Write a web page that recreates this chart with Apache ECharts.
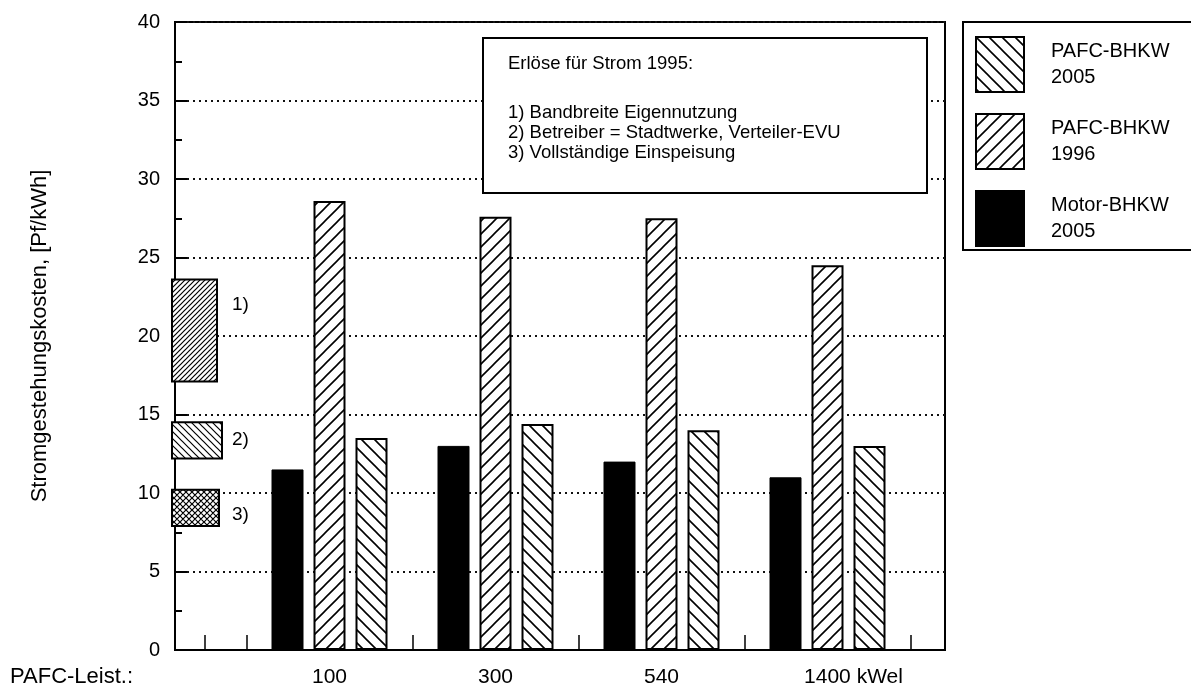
<!DOCTYPE html>
<html>
<head>
<meta charset="utf-8">
<script src="https://cdn.jsdelivr.net/npm/echarts@6/dist/echarts.min.js"></script>
<style>
  html, body { margin: 0; padding: 0; background: #fff; }
  #chart { width: 1191px; height: 688px; }
</style>
</head>
<body>
<div id="chart"></div>
<script>
// --- data ---
const groups = ['100', '300', '540', '1400 kWel'];
const motor2005 = [11.5, 13.0, 12.0, 11.0];
const pafc1996 = [28.6, 27.6, 27.5, 24.5];
const pafc2005 = [13.5, 14.4, 14.0, 13.0];

// revenue ranges for electricity 1995 (boxes at the y axis)
const rangeNames = ['1)', '2)', '3)'];
const rangeLow = [17.1, 12.2, 7.9];
const rangeHigh = [23.6, 14.5, 10.2];
const rangeLabelAt = [22.0, 13.4, 8.6];

const noteTitle = 'Erlöse für Strom 1995:';
const noteLines = [
  '1) Bandbreite Eigennutzung',
  '2) Betreiber = Stadtwerke, Verteiler-EVU',
  '3) Vollständige Einspeisung'
];

const FONT = '"Liberation Sans", Arial, Helvetica, sans-serif';
const X_MIN = 1 - 154.5 / 166;
const X_MAX = 4 + 117.5 / 166;

// hatch tiles
function hatch(size, kind, lw) {
  const c = document.createElement('canvas');
  c.width = c.height = size;
  const g = c.getContext('2d');
  g.fillStyle = '#fff';
  g.fillRect(0, 0, size, size);
  g.strokeStyle = '#000';
  g.lineWidth = lw;
  g.beginPath();
  if (kind === '/' || kind === 'x') {
    g.moveTo(-1, size + 1); g.lineTo(size + 1, -1);
    g.moveTo(-size / 2, size / 2); g.lineTo(size / 2, -size / 2);
    g.moveTo(size / 2, size * 1.5); g.lineTo(size * 1.5, size / 2);
  }
  if (kind === '\\' || kind === 'x') {
    g.moveTo(-1, -1); g.lineTo(size + 1, size + 1);
    g.moveTo(-size / 2, size / 2); g.lineTo(size / 2, size * 1.5);
    g.moveTo(size / 2, -size / 2); g.lineTo(size * 1.5, size / 2);
  }
  g.stroke();
  return { image: c, repeat: 'repeat' };
}

const slash = hatch(13, '/', 1.6);
const back = hatch(13, '\\', 1.6);
const boxFills = [hatch(5, '/', 1.2), hatch(7, '\\', 1.2), hatch(6, 'x', 1.2)];
const boxWidths = [45, 50, 47];

const chart = echarts.init(document.getElementById('chart'), null, { renderer: 'canvas' });

const barStyle = { borderColor: '#000', borderWidth: 2 };

const option = {
  animation: false,
  backgroundColor: '#fff',
  textStyle: { fontFamily: FONT, color: '#000' },
  grid: {
    left: 175, right: 246, top: 22, bottom: 38,
    show: true, borderColor: '#000', borderWidth: 2,
    outerBoundsMode: 'none'
  },
  legend: {
    left: 963, top: 22,
    orient: 'vertical',
    selectedMode: false,
    data: ['PAFC-BHKW\n2005', 'PAFC-BHKW\n1996', 'Motor-BHKW\n2005'],
    icon: 'rect',
    itemWidth: 48, itemHeight: 55, itemGap: 20,
    padding: [14, 60, 3, 12],
    borderColor: '#000', borderWidth: 2,
    backgroundColor: '#fff',
    textStyle: { fontFamily: FONT, fontSize: 20, lineHeight: 26, color: '#000', padding: [0, 0, 0, 22] }
  },
  xAxis: {
    type: 'value',
    min: X_MIN, max: X_MAX,
    axisLine: { show: true, lineStyle: { color: '#000', width: 2 } },
    axisTick: {
      show: true, inside: true, length: 15,
      customValues: [0.25, 0.5, 0.75, 1, 1.25, 1.5, 1.75, 2, 2.25, 2.5, 2.75, 3, 3.25, 3.5, 3.75, 4, 4.25, 4.5],
      lineStyle: { color: '#000', width: 1.5 }
    },
    axisLabel: {
      customValues: [1, 2, 3, 4],
      margin: 17,
      fontSize: 21, fontFamily: FONT, color: '#000',
      formatter: v => {
        const i = Math.round(v) - 1;
        return i === groups.length - 1 ? '{last|' + groups[i] + '}' : groups[i];
      },
      rich: { last: { fontSize: 21, fontFamily: FONT, color: '#000', padding: [0, 0, 0, 52] } }
    },
    splitLine: { show: false }
  },
  yAxis: {
    type: 'value',
    min: 0, max: 40, interval: 5,
    name: 'Stromgestehungskosten, [Pf/kWh]',
    nameLocation: 'middle', nameRotate: 90, nameGap: 124,
    nameTextStyle: { fontSize: 22, fontFamily: FONT, color: '#000' },
    axisLine: { show: true, lineStyle: { color: '#000', width: 2 } },
    axisTick: { show: true, inside: true, length: 12, lineStyle: { color: '#000', width: 2 } },
    minorTick: { show: true, splitNumber: 2, length: 7, lineStyle: { color: '#000', width: 2 } },
    axisLabel: { fontSize: 20, fontFamily: FONT, color: '#000', margin: 15 },
    splitLine: { show: true, lineStyle: { color: '#111', width: 2, type: [2, 4] } }
  },
  graphic: [
    {
      type: 'rect', z: 100,
      shape: { x: 483, y: 38, width: 444, height: 155 },
      style: { fill: '#fff', stroke: '#000', lineWidth: 2 }
    },
    {
      type: 'text', z: 101, x: 508, y: 64,
      style: { text: noteTitle, font: '18.5px ' + FONT, fill: '#000', verticalAlign: 'middle' }
    },
    {
      type: 'text', z: 101, x: 508, y: 102.5,
      style: { text: noteLines.join('\n'), font: '18.5px ' + FONT, lineHeight: 20, fill: '#000', verticalAlign: 'top' }
    },
    {
      type: 'text', z: 101, x: 10, y: 677,
      style: { text: 'PAFC-Leist.:', font: '22px ' + FONT, fill: '#000', verticalAlign: 'middle' }
    }
  ],
  series: [
    {
      name: 'Motor-BHKW\n2005', type: 'bar',
      barWidth: 32, barGap: '31.25%',
      data: motor2005.map((v, i) => [i + 1, v]),
      itemStyle: { color: '#000', borderColor: '#000', borderWidth: 1 }
    },
    {
      name: 'PAFC-BHKW\n1996', type: 'bar',
      barWidth: 32, barGap: '31.25%',
      data: pafc1996.map((v, i) => [i + 1, v]),
      itemStyle: Object.assign({ color: slash }, barStyle)
    },
    {
      name: 'PAFC-BHKW\n2005', type: 'bar',
      barWidth: 32, barGap: '31.25%',
      data: pafc2005.map((v, i) => [i + 1, v]),
      itemStyle: Object.assign({ color: back }, barStyle)
    },
    {
      name: 'ranges', type: 'custom',
      z: 5,
      encode: { y: [0, 1] },
      data: rangeLow.map((lo, i) => [lo, rangeHigh[i], rangeLabelAt[i]]),
      renderItem: (params, api) => {
        const i = params.dataIndex;
        const top = api.coord([X_MIN, api.value(1)]);
        const bot = api.coord([X_MIN, api.value(0)]);
        const lab = api.coord([X_MIN, api.value(2)]);
        const x0 = top[0] - 3;
        const w = boxWidths[i];
        return {
          type: 'group',
          children: [
            {
              type: 'rect',
              shape: { x: x0, y: top[1], width: w, height: bot[1] - top[1] },
              style: { fill: boxFills[i], stroke: '#000', lineWidth: 2 }
            },
            {
              type: 'text',
              x: x0 + 60, y: lab[1],
              style: { text: rangeNames[i], font: '19px ' + FONT, fill: '#000', verticalAlign: 'middle' }
            }
          ]
        };
      }
    }
  ]
};

chart.setOption(option);
</script>
</body>
</html>
